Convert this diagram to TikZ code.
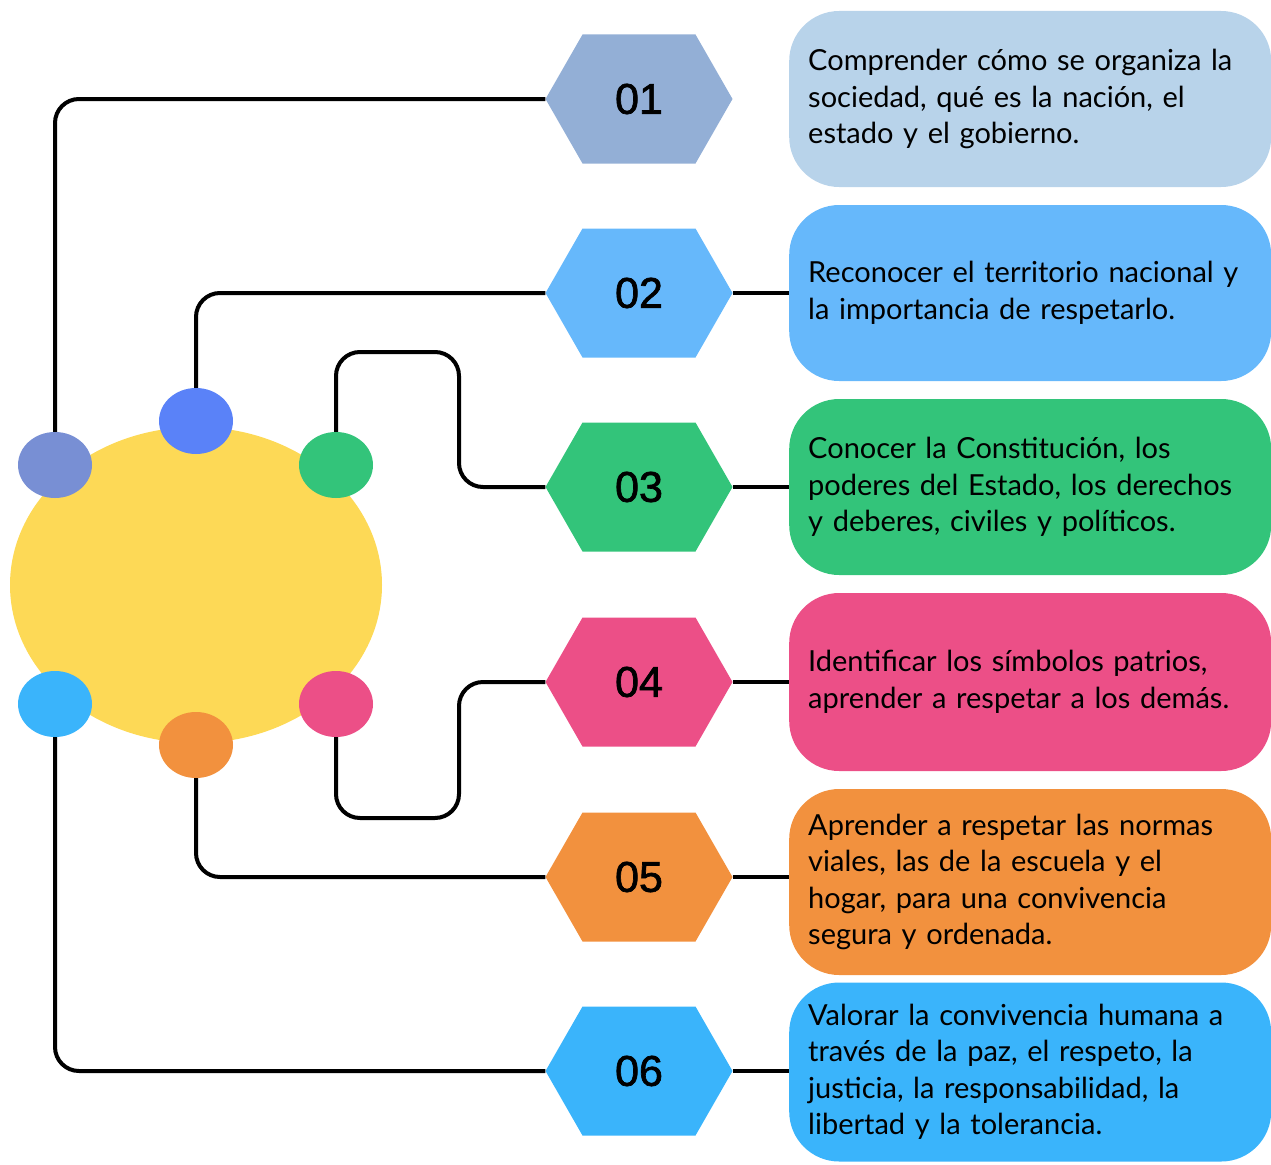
\documentclass[tikz,border=0pt]{standalone}
\usepackage{fontspec}
\setmainfont{Lato}
\newfontfamily\hexfont[BoldFont={Liberation Sans}, BoldFeatures={FakeBold=1.6}]{Liberation Sans}
\usetikzlibrary{shapes.geometric}
\definecolor{cYellow}{HTML}{FDD956}
\definecolor{cDotA}{HTML}{788FD4}
\definecolor{cDotB}{HTML}{5A82F8}
\definecolor{cGreen}{HTML}{33C47A}
\definecolor{cPink}{HTML}{EC4F87}
\definecolor{cOrange}{HTML}{F2913E}
\definecolor{cSky}{HTML}{3AB4FB}
\definecolor{cHexA}{HTML}{93AFD6}
\definecolor{cBoxA}{HTML}{B8D3EA}
\definecolor{cBlueB}{HTML}{66B8FB}
\begin{document}
\begin{tikzpicture}[x=1pt,y=-1pt,
  hexnode/.style={minimum width=187pt, minimum height=129pt, inner sep=0pt,
    font=\hexfont\bfseries\fontsize{43}{43}\selectfont,
    path picture={\fill[#1] (path picture bounding box.west)
      -- ([xshift=37pt]path picture bounding box.north west)
      -- ([xshift=-37pt]path picture bounding box.north east)
      -- (path picture bounding box.east)
      -- ([xshift=-37pt]path picture bounding box.south east)
      -- ([xshift=37pt]path picture bounding box.south west) -- cycle;}},
  textbox/.style={fill=#1, rounded corners=50pt, minimum height=176pt,
    text width=444pt, inner xsep=19pt, inner ysep=0pt, align=left, anchor=west,
    font=\fontsize{29}{36.5}\selectfont},
  dotnode/.style={ellipse, fill=#1, minimum width=74pt, minimum height=66pt, inner sep=0pt},
  conn/.style={line width=4pt, rounded corners=24pt},
  link/.style={line width=4pt}]
\useasboundingbox (0,0) rectangle (1271,1164);

% central ellipse and dots
\node[ellipse, fill=cYellow, minimum width=372pt, minimum height=316pt, inner sep=0pt] (core) at (196,585) {};
\node[dotnode=cDotA] (d1) at (55,465) {};
\node[dotnode=cDotB] (d2) at (196,421) {};
\node[dotnode=cGreen] (d3) at (336,465) {};
\node[dotnode=cPink] (d4) at (336,704) {};
\node[dotnode=cOrange] (d5) at (196,745) {};
\node[dotnode=cSky] (d6) at (55,704) {};

% hexagons
\node[hexnode=cHexA] (h1) at (639,99) {01};
\node[hexnode=cBlueB] (h2) at (639,293) {02};
\node[hexnode=cGreen] (h3) at (639,487) {03};
\node[hexnode=cPink] (h4) at (639,682) {04};
\node[hexnode=cOrange] (h5) at (639,877) {05};
\node[hexnode=cSky] (h6) at (639,1071) {06};

% text boxes
\node[textbox=cBoxA] (b1) at (789,99) {Comprender cómo se organiza la\\sociedad, qué es la nación, el\\estado y el gobierno.};
\node[textbox=cBlueB] (b2) at (789,293) {Reconocer el territorio nacional y\\la importancia de respetarlo.};
\node[textbox=cGreen] (b3) at (789,487) {Conocer la Constitución, los\\poderes del Estado, los derechos\\y deberes, civiles y políticos.};
\node[textbox=cPink, minimum height=178pt] (b4) at (789,682) {Identificar los símbolos patrios,\\aprender a respetar a los demás.};
\node[textbox=cOrange, minimum height=186pt] (b5) at (789,882) {Aprender a respetar las normas\\viales, las de la escuela y el\\hogar, para una convivencia\\segura y ordenada.};
\node[textbox=cSky, minimum height=179pt] (b6) at (789,1072) {Valorar la convivencia humana a\\través de la paz, el respeto, la\\justicia, la responsabilidad, la\\libertad y la tolerancia.};

% bend points
\coordinate (k3) at (459,352);
\coordinate (k4) at (459,818);

% connectors
\draw[conn] (h1.west) -| (d1.north);
\draw[conn] (h2.west) -| (d2.north);
\draw[conn] (d3.north) |- (k3) |- (h3.west);
\draw[conn] (d4.south) |- (k4) |- (h4.west);
\draw[conn] (d5.south) |- (h5.west);
\draw[conn] (d6.south) |- (h6.west);
\draw[link] (h2.east) -- (h2.east -| b2.west);
\draw[link] (h3.east) -- (h3.east -| b3.west);
\draw[link] (h4.east) -- (h4.east -| b4.west);
\draw[link] (h5.east) -- (h5.east -| b5.west);
\draw[link] (h6.east) -- (h6.east -| b6.west);
\end{tikzpicture}
\end{document}
